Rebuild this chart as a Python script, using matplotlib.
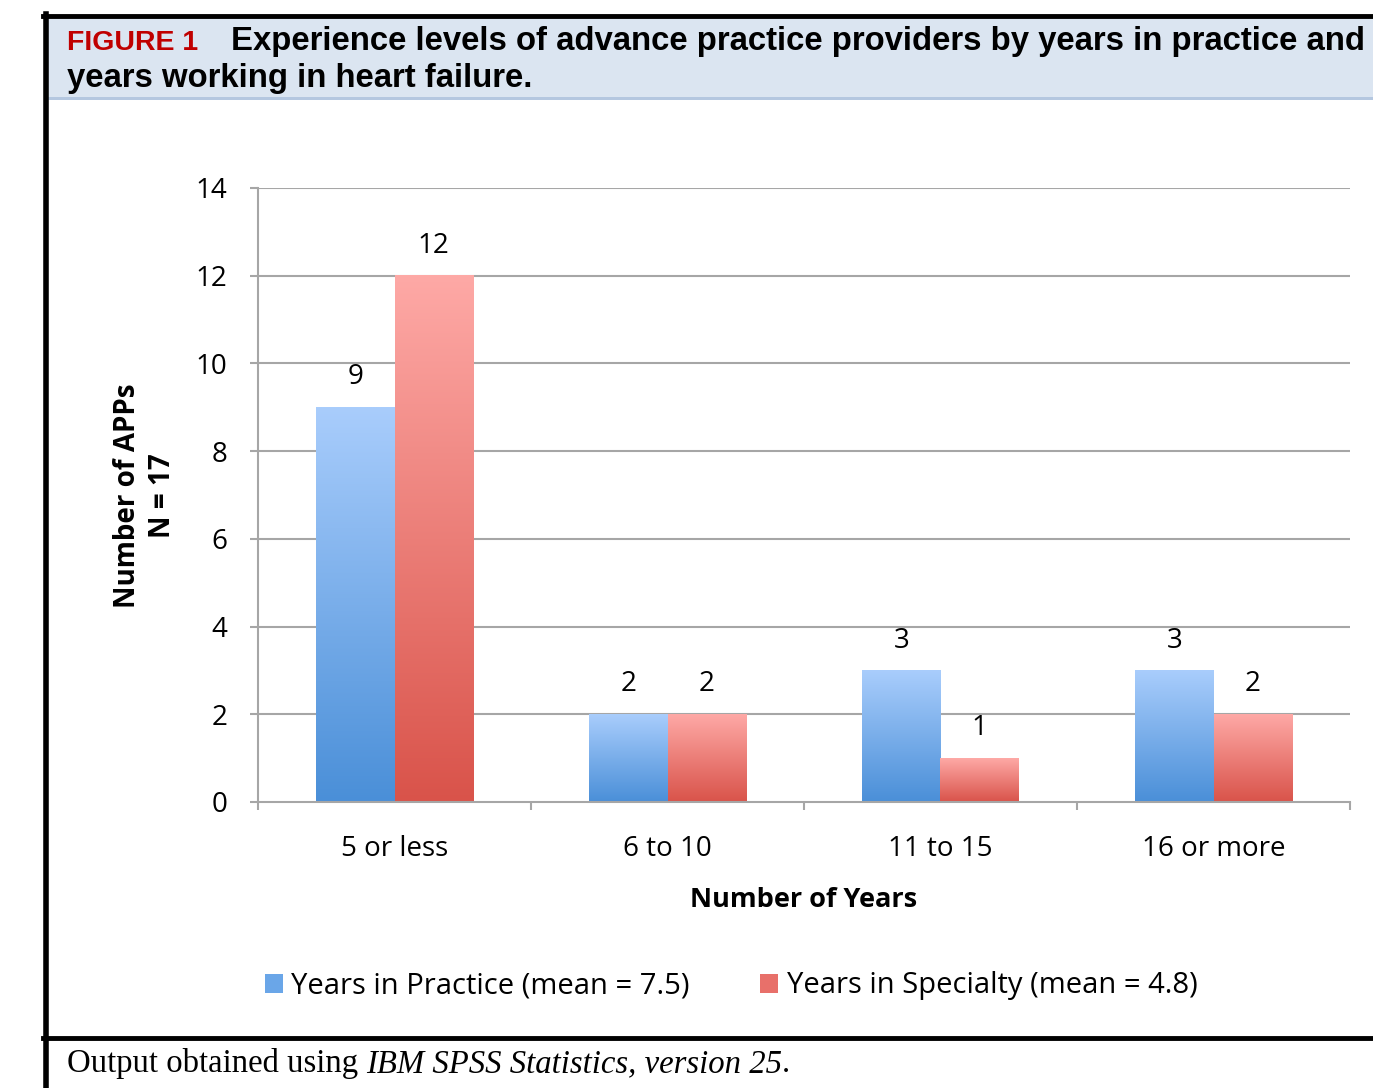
import matplotlib
matplotlib.use("Agg")
import matplotlib.pyplot as plt
import numpy as np
from matplotlib.colors import LinearSegmentedColormap
from matplotlib.patches import Rectangle, Patch
from matplotlib.lines import Line2D

categories = ["5 or less", "6 to 10", "11 to 15", "16 or more"]
practice = [9, 2, 3, 3]
specialty = [12, 2, 1, 2]
series_names = ["Years in Practice (mean = 7.5)", "Years in Specialty (mean = 4.8)"]
yticks = [0, 2, 4, 6, 8, 10, 12, 14]

W, H = 1373, 1088
fig = plt.figure(figsize=(W / 100, H / 100), dpi=100)
fig.patch.set_facecolor("white")

def fx(px):
    return px / W

def fy(py):
    return 1 - py / H

# Header band and frame
fig.add_artist(Rectangle((fx(45), fy(97)), 1 - fx(45), fy(18) - fy(97), transform=fig.transFigure,
                         facecolor="#dbe5f1", edgecolor="none", zorder=0))
fig.add_artist(Rectangle((fx(45), fy(100)), 1 - fx(45), fy(97) - fy(100), transform=fig.transFigure,
                         facecolor="#b4c7e0", edgecolor="none", zorder=0))
fig.add_artist(Line2D([fx(43), 1], [fy(16), fy(16)], transform=fig.transFigure, color="black", lw=3.5))
fig.add_artist(Line2D([fx(45.5), fx(45.5)], [fy(14), 0], transform=fig.transFigure, color="black", lw=4))
fig.add_artist(Line2D([fx(43), 1], [fy(1038), fy(1038)], transform=fig.transFigure, color="black", lw=3.5))

hfont = "Liberation Sans"
fig.text(fx(67), fy(50), "FIGURE 1", color="#c00000", fontsize=20.5, fontweight="bold",
         family=hfont, va="baseline", ha="left")
fig.text(fx(231), fy(50), "Experience levels of advance practice providers by years in practice and",
         color="black", fontsize=23.7, fontweight="bold", family=hfont, va="baseline", ha="left")
fig.text(fx(67), fy(87), "years working in heart failure.", color="black", fontsize=23.7,
         fontweight="bold", family=hfont, va="baseline", ha="left")

# footnote
sfont = "Liberation Serif"
fsz = 23.6
fn1 = fig.text(fx(67), fy(1072), "Output obtained using ", fontsize=fsz, family=sfont,
               va="baseline", ha="left")
fig.canvas.draw()
bb = fn1.get_window_extent()
fn2 = fig.text(bb.x1 / W, fy(1072), "IBM SPSS Statistics, version 25", fontsize=fsz, family=sfont,
               style="italic", va="baseline", ha="left")
fig.canvas.draw()
bb2 = fn2.get_window_extent()
fig.text(bb2.x1 / W, fy(1072), ".", fontsize=fsz, family=sfont, va="baseline", ha="left")

# Axes
left, right, bottom, top = 258, 1350, 802, 188
ax = fig.add_axes([fx(left), fy(bottom), fx(right) - fx(left), fy(top) - fy(bottom)])
cfont = "Open Sans"
grid_c = "#a6a6a6"

x = np.arange(len(categories))
bw = 0.286
blue_cmap = LinearSegmentedColormap.from_list("b", ["#4a8fd8", "#a9cdfc"])
red_cmap = LinearSegmentedColormap.from_list("r", ["#d9534a", "#fea9a6"])
grad = np.linspace(0, 1, 256).reshape(-1, 1)

for vals, offset, cmap in [(practice, -bw / 2, blue_cmap), (specialty, bw / 2, red_cmap)]:
    bars = ax.bar(x + offset, vals, width=bw, color="none", edgecolor="none", zorder=3)
    for b, v in zip(bars, vals):
        x0 = b.get_x()
        ax.imshow(grad, extent=[x0, x0 + b.get_width(), 0, v], origin="lower", cmap=cmap,
                  aspect="auto", zorder=3, interpolation="bilinear")
        ax.text(x0 + b.get_width() / 2, v + 0.36, str(v), ha="center", va="bottom",
                fontsize=20, family=cfont, color="black")

ax.set_xlim(-0.5, len(categories) - 0.5)
ax.set_ylim(0, 14)
ax.set_yticks(yticks)
ax.set_yticklabels([str(t) for t in yticks], fontsize=20, family=cfont)
ax.set_xticks(x)
ax.set_xticklabels(categories, fontsize=20, family=cfont)
ax.set_xticks(np.arange(len(categories) + 1) - 0.5, minor=True)
ax.tick_params(axis="x", which="major", length=0, pad=23.5)
ax.tick_params(axis="x", which="minor", length=6, width=1.5, color=grid_c, direction="out")
ax.tick_params(axis="y", which="major", length=6, width=1.5, color=grid_c, pad=16)
for yv in yticks[1:]:
    ax.axhline(yv, color=grid_c, lw=1.5, zorder=1)
for s in ["top", "right"]:
    ax.spines[s].set_visible(False)
for s in ["left", "bottom"]:
    ax.spines[s].set_color(grid_c)
    ax.spines[s].set_linewidth(1.5)
ax.spines["bottom"].set_zorder(4)

ax.set_xlabel("Number of Years", fontsize=19.5, fontweight="bold", family=cfont, labelpad=17.5)
fig.text(fx(145), fy(496), "Number of APPs\nN = 17", rotation=90, ha="center", va="center",
         fontsize=20, fontweight="bold", family=cfont, linespacing=1.25)

handles = [Patch(facecolor="#6aa6e8", edgecolor="none"), Patch(facecolor="#e8706a", edgecolor="none")]
fig.legend(handles, series_names, loc="center", bbox_to_anchor=(fx(731), fy(986)), ncol=2,
           frameon=False, prop={"family": cfont, "size": 21}, handlelength=0.62, handleheight=0.65,
           handletextpad=0.3, columnspacing=2.4)

fig.savefig("out.png", dpi=100)
